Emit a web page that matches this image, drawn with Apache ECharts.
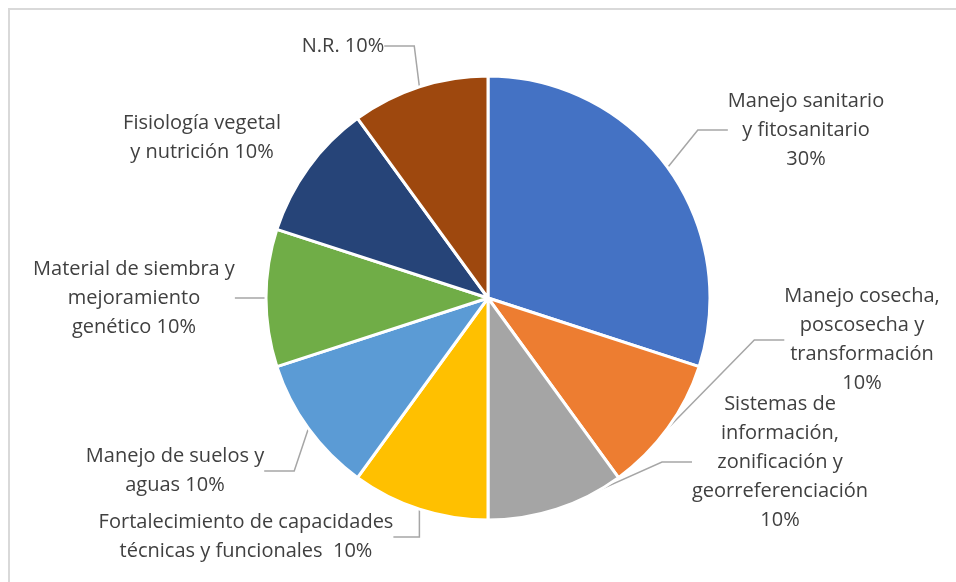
<!DOCTYPE html>
<html>
<head>
<meta charset="utf-8">
<script src="https://cdn.jsdelivr.net/npm/echarts@6/dist/echarts.min.js"></script>
<style>
  html, body { margin: 0; padding: 0; background: #fff; }
  #pie { width: 956px; height: 582px; }
</style>
</head>
<body>
<div id="pie"></div>
<script>
// categories (label text, with the line breaks used in the picture)
var categories = [
    'Manejo sanitario\ny fitosanitario',
    'Manejo cosecha,\nposcosecha y\ntransformación',
    'Sistemas de\ninformación,\nzonificación y\ngeorreferenciación',
    'Fortalecimiento de capacidades\ntécnicas y funcionales ',
    'Manejo de suelos y\naguas',
    'Material de siembra y\nmejoramiento\ngenético',
    'Fisiología vegetal\ny nutrición',
    'N.R.'
];
// separator between name and percent
var percentSep = ['\n', '\n', '\n', ' ', ' ', ' ', ' ', ' '];
var values = [30, 10, 10, 10, 10, 10, 10, 10];
var colors = ['#4472C4', '#ED7D31', '#A5A5A5', '#FFC000', '#5B9BD5', '#70AD47', '#264478', '#9E480E'];

// where each label sits (center of the text block)
var labelPos = [
    [806, 130], [862, 340], [780, 462], [246, 537],
    [175, 471], [134, 298], [202, 138], [343, 46]
];

var pieData = [];
for (var i = 0; i < categories.length; i++) {
    var item = { name: categories[i], value: values[i], itemStyle: { color: colors[i] } };
    if (i == 6) item.labelLine = { show: false };   // no leader for Fisiología
    pieData.push(item);
}

var myChart = echarts.init(document.getElementById('pie'));

var option = {
    backgroundColor: '#fff',
    animation: false,
    graphic: [{
        type: 'rect',
        shape: { x: 9, y: 9, width: 1000, height: 700 },
        style: { fill: 'none', stroke: '#d9d9d9', lineWidth: 2 }
    }],
    series: [{
        type: 'pie',
        center: [488, 298],
        radius: 222,
        startAngle: 90,
        clockwise: true,
        data: pieData,
        itemStyle: { borderColor: '#fff', borderWidth: 3 },
        label: {
            show: true,
            position: 'outside',
            color: '#404040',
            fontFamily: 'Open Sans',
            fontSize: 20,
            lineHeight: 29,
            align: 'center',
            formatter: function (p) {
                return p.name + percentSep[p.dataIndex] + Math.round(p.percent) + '%';
            }
        },
        labelLine: {
            show: true,
            lineStyle: { color: '#a6a6a6', width: 1.5 }
        },
        labelLayout: function (params) {
            var pos = labelPos[params.dataIndex];
            return {
                x: pos[0],
                y: pos[1],
                align: 'center',
                verticalAlign: 'middle'
            };
        }
    }]
};

myChart.setOption(option);
</script>
</body>
</html>
